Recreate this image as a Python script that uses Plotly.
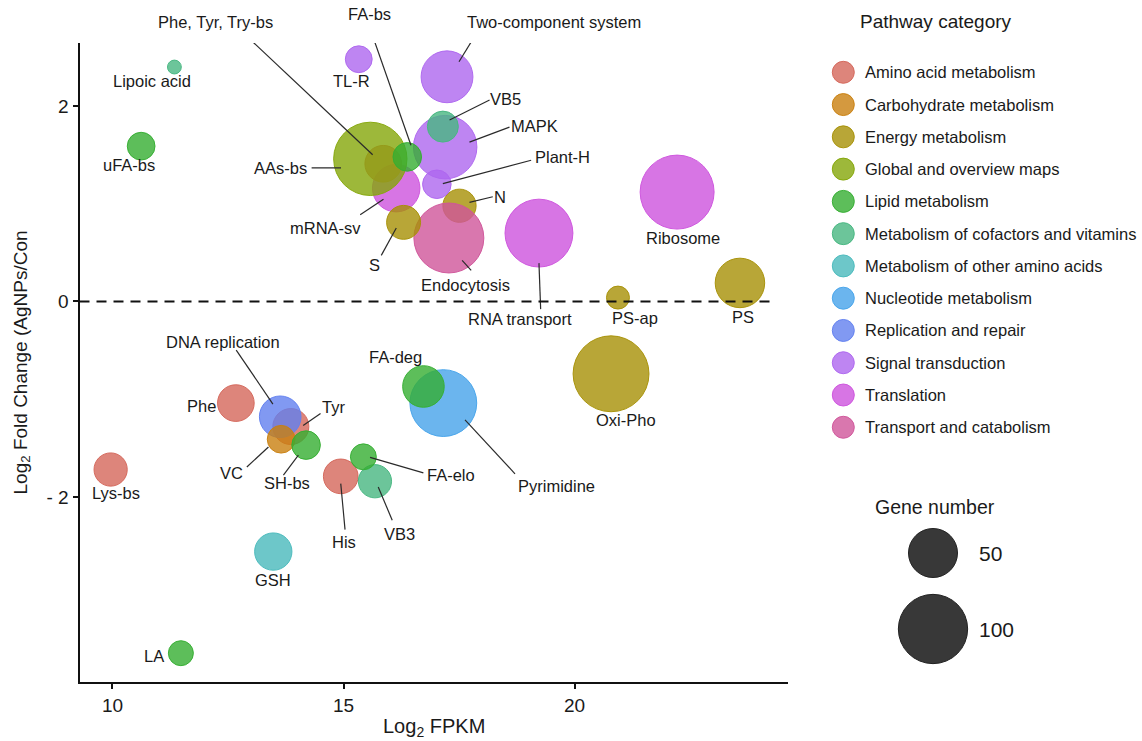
import plotly.graph_objects as go

# ---------------- data (list order = drawing order) ----------------
categories = [
    "Amino acid metabolism", "Carbohydrate metabolism", "Energy metabolism",
    "Global and overview maps", "Lipid metabolism",
    "Metabolism of cofactors and vitamins", "Metabolism of other amino acids",
    "Nucleotide metabolism", "Replication and repair", "Signal transduction",
    "Translation", "Transport and catabolism",
]
category_colors = [
    "rgba(212,102,90,0.8)", "rgba(201,128,15,0.8)", "rgba(166,144,5,0.8)",
    "rgba(133,166,9,0.8)", "rgba(53,174,49,0.8)", "rgba(71,182,129,0.8)",
    "rgba(73,185,188,0.8)", "rgba(70,163,234,0.8)", "rgba(97,128,239,0.8)",
    "rgba(174,102,239,0.8)", "rgba(205,83,221,0.8)", "rgba(208,85,154,0.8)",
]

pathways = [
    "Oxi-Pho", "Ribosome", "mRNA-sv", "Phe, Tyr, Try-bs", "AAs-bs", "N",
    "Endocytosis", "RNA transport", "Pyrimidine", "MAPK", "Two-component system",
    "PS", "FA-deg", "Tyr", "DNA replication", "GSH", "Phe", "His", "S",
    "Lys-bs", "VB3", "VB5", "Plant-H", "FA-bs", "VC", "SH-bs", "uFA-bs",
    "TL-R", "FA-elo", "LA", "PS-ap", "Lipoic acid",
]
log2_fpkm = [
    20.79, 22.22, 16.14, 15.86, 15.58, 17.51,
    17.28, 19.23, 17.16, 17.20, 17.24,
    23.58, 16.73, 13.86, 13.63, 13.48, 12.67, 14.94, 16.30,
    9.96, 15.68, 17.15, 17.02, 16.38, 13.65, 14.19, 10.62,
    15.33, 15.43, 11.48, 20.94, 11.34,
]
log2_fc = [
    -0.74, 1.12, 1.16, 1.41, 1.46, 0.98,
    0.65, 0.70, -1.04, 1.58, 2.30,
    0.19, -0.87, -1.28, -1.18, -2.56, -1.04, -1.79, 0.81,
    -1.72, -1.84, 1.79, 1.20, 1.48, -1.41, -1.47, 1.59,
    2.48, -1.59, -3.60, 0.04, 2.40,
]
gene_number = [
    120, 114, 47, 28, 112, 23,
    102, 96, 93, 84, 56,
    51, 36, 27, 36, 29, 28, 25, 24,
    23, 23, 20, 17, 17, 16, 17, 16,
    15, 14, 13, 11, 4,
]
pathway_category = [
    "Energy metabolism", "Translation", "Translation", "Amino acid metabolism",
    "Global and overview maps", "Energy metabolism",
    "Transport and catabolism", "Translation", "Nucleotide metabolism",
    "Signal transduction", "Signal transduction",
    "Energy metabolism", "Lipid metabolism", "Amino acid metabolism",
    "Replication and repair", "Metabolism of other amino acids",
    "Amino acid metabolism", "Amino acid metabolism", "Energy metabolism",
    "Amino acid metabolism", "Metabolism of cofactors and vitamins",
    "Metabolism of cofactors and vitamins", "Signal transduction", "Lipid metabolism",
    "Carbohydrate metabolism", "Lipid metabolism", "Lipid metabolism",
    "Signal transduction", "Lipid metabolism", "Lipid metabolism",
    "Energy metabolism", "Metabolism of cofactors and vitamins",
]
size_legend_values = [50, 100]
x_ticks = [10, 15, 20]
y_ticks = [-2, 0, 2]
y_tick_labels = ["- 2", "0", "2"]

# ---------------- styling (label placement in screen pixels relative to bubble) ----------------
label_offset = {
    "Lipoic acid": (-22, 14), "uFA-bs": (-12, 19), "TL-R": (-7, 22),
    "Two-component system": (106.5, -55), "VB5": (62.7, -27.7), "MAPK": (89.3, -20.7),
    "Plant-H": (126, -27.3), "N": (40.7, -9), "Endocytosis": (16.7, 46.7),
    "S": (-28.7, 42.3), "RNA transport": (-19.3, 86), "Ribosome": (6.3, 46),
    "PS-ap": (16.7, 20.7), "PS": (3, 34), "Oxi-Pho": (15.3, 46.3),
    "AAs-bs": (-90, 9), "Phe, Tyr, Try-bs": (-167.8, -141.6), "mRNA-sv": (-71, 40),
    "FA-bs": (-37.3, -143.4), "DNA replication": (-57.3, -75), "Phe": (-34, 3.3),
    "Tyr": (42.3, -19.7), "VC": (-49.3, 33.7), "SH-bs": (-19.3, 38.3),
    "Lys-bs": (5.3, 23.4), "His": (3.3, 66), "FA-elo": (87.4, 18.3),
    "VB3": (25, 53), "FA-deg": (-28.3, -29.4), "Pyrimidine": (112.7, 82.7),
    "GSH": (-0.6, 28.3), "LA": (-26.7, 2.7),
}
leader = {
    "Two-component system": (31, -46, 12, -15), "VB5": (46.7, -26.7, 6.7, -6.7),
    "MAPK": (64.3, -20, 24.3, -5), "Plant-H": (94.3, -24, 6, -0.7),
    "N": (33.3, -9, 10, -3.3), "Endocytosis": (22.3, 32.3, 13.3, 22.3),
    "S": (-22.3, 33, -7.3, 5.7), "RNA transport": (1.7, 76, 0, 30),
    "AAs-bs": (-58.7, 9, -29.3, 9), "Phe, Tyr, Try-bs": (-137.3, -128.3, -10.6, -9),
    "mRNA-sv": (-36, 26.7, -12.7, 11), "FA-bs": (-39, -133.4, 3.7, -11.7),
    "DNA replication": (-44, -66.7, -7.3, -12.7), "Tyr": (29.7, -13, 12.3, -1),
    "VC": (-34.3, 27.7, -12.7, 7.7), "SH-bs": (-22.7, 30, -7.7, 10),
    "His": (4.3, 53.3, 0, 7.3), "FA-elo": (60, 16, 6.7, 0.6),
    "VB3": (17.3, 39, 3.3, 5.7), "Pyrimidine": (71.7, 70.7, 21.7, 16.7),
}

W, H = 1142, 741
FONT = "Liberation Sans, Arial, Helvetica, sans-serif"
PX_PER_SQRT_GENE = 6.93                # bubble diameter = k * sqrt(genes)
SIZEREF = 2.0 / PX_PER_SQRT_GENE ** 2  # plotly 'area' sizing
X_RANGE = [9.286, 24.62]
Y_RANGE = [-3.895, 2.646]
X_DOMAIN = [79.5 / W, 788 / W]
Y_DOMAIN = [1 - 682 / H, 1 - 43 / H]
DASH_END = 24.34

color_of = dict(zip(categories, category_colors))

def edge(c):
    return c.replace("0.8)", "0.95)")

fig = go.Figure()
fig.add_trace(go.Scatter(
    x=log2_fpkm, y=log2_fc, mode="markers", text=pathways,
    marker=dict(
        size=gene_number, sizemode="area", sizeref=SIZEREF, opacity=1,
        color=[color_of[c] for c in pathway_category],
        line=dict(width=1, color=[edge(color_of[c]) for c in pathway_category]),
    ),
    xaxis="x", yaxis="y", showlegend=False, hoverinfo="text",
))

annotations = []
shapes = []
for name, xv, yv in zip(pathways, log2_fpkm, log2_fc):
    dx, dy = label_offset[name]
    annotations.append(dict(
        x=xv, y=yv, xref="x", yref="y", text=name, showarrow=False,
        xshift=dx, yshift=-dy, xanchor="center", yanchor="middle",
        font=dict(family=FONT, size=16.5, color="#1a1a1a"),
    ))
    if name in leader:
        sx, sy, ex, ey = leader[name]
        shapes.append(dict(
            type="line", xref="x", yref="y", xsizemode="pixel", ysizemode="pixel",
            xanchor=xv, yanchor=yv, x0=sx, y0=-sy, x1=ex, y1=-ey,
            line=dict(color="#2a2a2a", width=1.2), layer="above",
        ))

# zero reference line
shapes.append(dict(
    type="line", xref="x", yref="y", x0=X_RANGE[0], x1=DASH_END, y0=0, y1=0,
    line=dict(color="#111", width=2, dash="10px,7px"), layer="above",
))

# ---------------- legends (overlay axes in pixel units) ----------------
LEG_X, LEG_Y0, LEG_DY = 843.3, 72.3, 32.27
fig.add_trace(go.Scatter(
    x=[LEG_X] * len(categories),
    y=[LEG_Y0 + k * LEG_DY for k in range(len(categories))],
    mode="markers",
    marker=dict(size=22, color=category_colors, opacity=1,
                line=dict(width=1, color=[edge(c) for c in category_colors])),
    xaxis="x2", yaxis="y2", showlegend=False, hoverinfo="skip",
))
for k, cat in enumerate(categories):
    annotations.append(dict(
        x=863.3, y=LEG_Y0 + k * LEG_DY, xref="x2", yref="y2", text=cat,
        showarrow=False, xanchor="left", yanchor="middle",
        font=dict(family=FONT, size=16.5, color="#1a1a1a"),
    ))
annotations.append(dict(
    x=858, y=21, xref="x2", yref="y2", text="Pathway category", showarrow=False,
    xanchor="left", yanchor="middle", font=dict(family=FONT, size=19, color="#1a1a1a"),
))

GENE_X = 933
gene_legend_y = [553, 629]
fig.add_trace(go.Scatter(
    x=[GENE_X] * len(size_legend_values), y=gene_legend_y, mode="markers",
    marker=dict(size=size_legend_values, sizemode="area", sizeref=SIZEREF, opacity=1,
                color="rgba(45,45,45,0.95)", line=dict(width=1, color="#222")),
    xaxis="x2", yaxis="y2", showlegend=False, hoverinfo="skip",
))
for v, yy in zip(size_legend_values, gene_legend_y):
    annotations.append(dict(
        x=977, y=yy, xref="x2", yref="y2", text=str(v), showarrow=False,
        xanchor="left", yanchor="middle", font=dict(family=FONT, size=21, color="#1a1a1a"),
    ))
annotations.append(dict(
    x=873, y=507, xref="x2", yref="y2", text="Gene number", showarrow=False,
    xanchor="left", yanchor="middle", font=dict(family=FONT, size=19.5, color="#1a1a1a"),
))

# axis titles
annotations.append(dict(
    x=(79.5 + 788) / 2, y=727, xref="x2", yref="y2", text="Log<sub>2</sub> FPKM",
    showarrow=False, xanchor="center", yanchor="middle",
    font=dict(family=FONT, size=20, color="#1a1a1a"),
))
annotations.append(dict(
    x=21, y=(43 + 682) / 2, xref="x2", yref="y2",
    text="Log<sub>2</sub> Fold Change (AgNPs/Con", textangle=-90,
    showarrow=False, xanchor="center", yanchor="middle",
    font=dict(family=FONT, size=19, color="#1a1a1a"),
))

fig.update_layout(
    width=W, height=H, margin=dict(l=0, r=0, t=0, b=0, pad=0),
    paper_bgcolor="white", plot_bgcolor="rgba(0,0,0,0)",
    showlegend=False, font=dict(family=FONT, color="#1a1a1a"),
    xaxis=dict(
        domain=X_DOMAIN, range=X_RANGE, anchor="y", showgrid=False, zeroline=False,
        showline=True, linecolor="#111", linewidth=2, ticks="outside", ticklen=5,
        tickwidth=2, tickcolor="#111", tickvals=x_ticks,
        tickfont=dict(family=FONT, size=19, color="#1a1a1a"),
    ),
    yaxis=dict(
        domain=Y_DOMAIN, range=Y_RANGE, anchor="x", showgrid=False, zeroline=False,
        showline=True, linecolor="#111", linewidth=2, ticks="outside", ticklen=5,
        tickwidth=2, tickcolor="#111", tickvals=y_ticks, ticktext=y_tick_labels,
        tickfont=dict(family=FONT, size=19, color="#1a1a1a"),
    ),
    xaxis2=dict(domain=[0, 1], range=[0, W], anchor="y2", visible=False, fixedrange=True),
    yaxis2=dict(domain=[0, 1], range=[H, 0], anchor="x2", visible=False, fixedrange=True),
    annotations=annotations, shapes=shapes,
)

fig.write_html("out.html")
